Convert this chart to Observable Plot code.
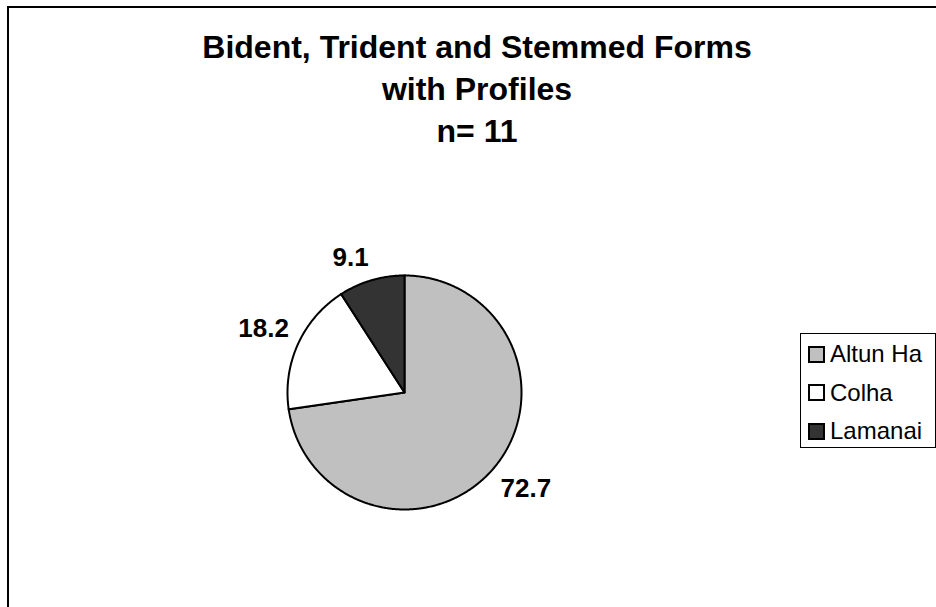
<!DOCTYPE html>
<html><head><meta charset="utf-8">
<script src="https://cdn.jsdelivr.net/npm/d3@7"></script>
<script src="https://cdn.jsdelivr.net/npm/@observablehq/plot@0.6"></script>
<style>
html,body{margin:0;padding:0;background:#fff;}
body{font-family:"Liberation Sans",Arial,sans-serif;color:#000;}
#page{position:relative;width:936px;height:607px;overflow:hidden;}
#frame{position:absolute;left:7px;top:6px;width:980px;height:650px;border:2px solid #000;box-sizing:border-box;}
#title{position:absolute;left:0;width:954px;top:26px;text-align:center;font-weight:bold;font-size:32px;line-height:42px;}
#chart{position:absolute;left:0;top:160px;}
#legend{position:absolute;left:800px;top:333px;width:136px;height:115px;border:1px solid #000;box-sizing:border-box;padding-top:1px;}
.item{display:flex;align-items:center;height:38.5px;font-size:24px;}
.sw{width:17px;height:17px;box-sizing:border-box;border:2px solid #000;margin-left:7px;margin-right:5px;}
</style></head>
<body>
<div id="page">
  <div id="frame"></div>
  <div id="title">Bident, Trident and Stemmed Forms<br>with Profiles<br>n= 11</div>
  <div id="chart"></div>
  <div id="legend"></div>
</div>
<script>
const categories = ["Altun Ha", "Colha", "Lamanai"];
const values = [72.7, 18.2, 9.1];
const valueLabels = ["72.7", "18.2", "9.1"];
const colors = ["#c0c0c0", "#ffffff", "#333333"];

// layout
const W = 936, H = 447, top0 = 160;
const cx = 404, cy = 392 - top0, R = 117;
const labelFont = "bold 26px 'Liberation Sans', Arial, sans-serif";

const data = categories.map((c, i) => ({cat: c, value: values[i], label: valueLabels[i]}));
const arcs = d3.pie().sort(null).value(d => d.value)(data);

// slice outlines in unit-radius coordinates (y up)
const pts = [];
for (const a of arcs) {
  pts.push({cat: a.data.cat, x: 0, y: 0});
  const n = Math.max(2, Math.ceil((a.endAngle - a.startAngle) / (Math.PI / 360)));
  for (let k = 0; k <= n; k++) {
    const t = a.startAngle + (a.endAngle - a.startAngle) * k / n;
    pts.push({cat: a.data.cat, x: Math.sin(t), y: Math.cos(t)});
  }
  pts.push({cat: a.data.cat, x: 0, y: 0});
}

// label positions: outside end, box offset away from the arc
const ctx = document.createElement("canvas").getContext("2d");
ctx.font = labelFont;
const gap = 10, lh = 26;
const labs = arcs.map(a => {
  const m = (a.startAngle + a.endAngle) / 2;
  const s = Math.sin(m), c = Math.cos(m);
  const w = ctx.measureText(a.data.label).width;
  const px = s * R + s * gap + Math.sign(s) * w / 2;
  const py = c * R + c * gap + Math.sign(c) * Math.min(1, Math.abs(c) * 2) * lh / 2;
  return {label: a.data.label, x: px / R, y: py / R};
});

const chart = Plot.plot({
  width: W, height: H,
  margin: 0,
  style: {overflow: "visible", background: "transparent"},
  x: {domain: [-1, 1], range: [cx - R, cx + R], axis: null},
  y: {domain: [-1, 1], range: [cy + R, cy - R], axis: null},
  color: {domain: categories, range: colors},
  marks: [
    Plot.line(pts, {x: "x", y: "y", z: "cat", fill: "cat", stroke: "#000", strokeWidth: 2,
      strokeLinejoin: "miter", strokeMiterlimit: 4, curve: "linear"}),
    Plot.text(labs, {x: "x", y: "y", text: "label", fontSize: 26, fontWeight: "bold",
      fill: "#000", textAnchor: "middle", lineAnchor: "middle",
      fontFamily: "'Liberation Sans', Arial, sans-serif"})
  ]
});
document.getElementById("chart").appendChild(chart);

const leg = document.getElementById("legend");
categories.forEach((c, i) => {
  const it = document.createElement("div");
  it.className = "item";
  const sw = document.createElement("div");
  sw.className = "sw";
  sw.style.background = colors[i];
  const tx = document.createElement("span");
  tx.textContent = c;
  it.appendChild(sw); it.appendChild(tx);
  leg.appendChild(it);
});
</script>
</body></html>
